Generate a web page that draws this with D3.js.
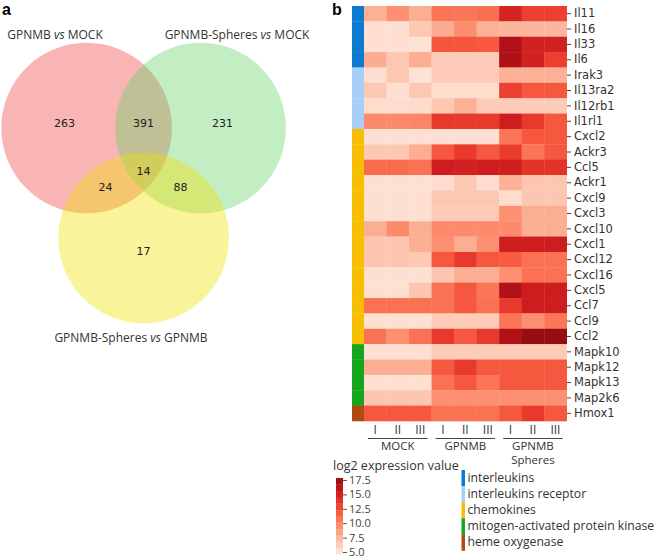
<!DOCTYPE html>
<html><head><meta charset="utf-8">
<script src="https://cdn.jsdelivr.net/npm/d3@7"></script>
<style>body{margin:0;background:#fff}svg{display:block}</style>
</head><body>
<script>
// ---------- DATA ----------
const vennSets = ["GPNMB vs MOCK", "GPNMB-Spheres vs MOCK", "GPNMB-Spheres vs GPNMB"];
const vennRegions = ["A", "AB", "B", "ABC", "AC", "BC", "C"];
const vennCounts = [263, 391, 231, 14, 24, 88, 17];

const samples = ["MOCK I","MOCK II","MOCK III","GPNMB I","GPNMB II","GPNMB III","Spheres I","Spheres II","Spheres III"];
const sampleTicks = ["I","II","III","I","II","III","I","II","III"];
const groupNames = [["MOCK"],["GPNMB"],["GPNMB","Spheres"]];
const genes = ["Il11","Il16","Il33","Il6","Irak3","Il13ra2","Il12rb1","Il1rl1","Cxcl2","Ackr3","Ccl5","Ackr1","Cxcl9","Cxcl3","Cxcl10","Cxcl1","Cxcl12","Cxcl16","Cxcl5","Ccl7","Ccl9","Ccl2","Mapk10","Mapk12","Mapk13","Map2k6","Hmox1"];
const geneClass = ["interleukins","interleukins","interleukins","interleukins","interleukins receptor","interleukins receptor","interleukins receptor","interleukins receptor","chemokines","chemokines","chemokines","chemokines","chemokines","chemokines","chemokines","chemokines","chemokines","chemokines","chemokines","chemokines","chemokines","chemokines","mitogen-activated protein kinase","mitogen-activated protein kinase","mitogen-activated protein kinase","mitogen-activated protein kinase","heme oxygenase"];
const classNames = ["interleukins","interleukins receptor","chemokines","mitogen-activated protein kinase","heme oxygenase"];
const expression = [
  [7.9, 9.5, 8.0, 10.9, 10.8, 11.1, 14.9, 13.3, 13.3],
  [5.2, 5.2, 6.7, 8.1, 9.6, 7.9, 7.6, 7.6, 7.6],
  [5.3, 5.3, 5.1, 12.3, 12.3, 12.1, 16.7, 15.0, 15.0],
  [8.1, 6.7, 8.0, 6.5, 6.5, 6.5, 16.8, 15.0, 13.3],
  [5.3, 6.7, 5.1, 6.5, 6.5, 6.5, 7.9, 7.9, 7.9],
  [6.7, 5.2, 6.7, 5.4, 5.4, 5.4, 13.3, 12.2, 12.2],
  [5.4, 5.4, 5.5, 6.7, 7.9, 6.5, 6.5, 6.5, 6.5],
  [9.8, 9.8, 10.0, 13.6, 13.6, 13.6, 15.3, 13.6, 12.2],
  [5.2, 5.2, 5.2, 5.2, 5.3, 5.3, 10.8, 12.2, 12.2],
  [6.7, 6.7, 8.0, 12.2, 13.6, 12.2, 13.5, 10.8, 12.2],
  [11.3, 11.3, 11.0, 15.3, 15.1, 15.3, 15.2, 13.9, 13.9],
  [5.2, 5.2, 5.2, 5.4, 6.7, 5.4, 7.9, 6.8, 6.8],
  [5.2, 5.2, 5.2, 6.7, 6.7, 6.7, 5.4, 6.8, 6.8],
  [5.2, 5.2, 5.2, 6.5, 6.5, 6.5, 9.5, 8.0, 8.0],
  [8.0, 9.8, 8.0, 9.8, 9.8, 9.8, 9.8, 8.0, 8.0],
  [6.8, 6.8, 8.0, 9.5, 8.0, 9.5, 15.3, 15.3, 15.3],
  [6.8, 6.8, 6.6, 12.2, 13.6, 12.2, 12.0, 11.0, 11.0],
  [5.2, 5.2, 5.2, 6.8, 8.0, 8.0, 9.5, 11.0, 11.0],
  [5.2, 5.2, 6.8, 11.0, 12.2, 10.8, 16.7, 15.3, 15.3],
  [11.0, 11.0, 11.0, 11.0, 12.2, 11.0, 13.6, 15.3, 15.3],
  [5.2, 5.2, 5.2, 6.5, 6.5, 6.5, 10.8, 9.5, 10.8],
  [11.0, 9.5, 11.0, 13.6, 12.2, 13.6, 16.7, 17.8, 17.8],
  [5.2, 5.2, 5.2, 6.5, 6.5, 6.5, 6.5, 6.5, 6.5],
  [8.0, 8.0, 8.0, 12.2, 13.6, 12.2, 12.2, 12.2, 12.2],
  [5.2, 5.2, 5.2, 11.0, 12.2, 10.8, 12.2, 12.2, 12.2],
  [6.8, 6.8, 6.8, 9.5, 9.5, 9.5, 9.5, 9.5, 9.5],
  [12.2, 12.2, 12.2, 11.0, 11.0, 11.0, 12.2, 13.6, 12.2]
];
const cbTicks = [5.0, 7.5, 10.0, 12.5, 15.0, 17.5];

// ---------- STYLE / LAYOUT ----------
const W = 658, H = 558;
const vennFill = ["rgb(240,68,68)", "rgb(105,210,105)", "rgb(240,225,2)"];
const classColor = d3.scaleOrdinal().domain(classNames).range(["#0a7bd0","#a8cff8","#f7bf00","#14a61e","#b04a10"]);
const color = d3.scaleSequential(d3.interpolateReds).domain([3.4, 19.4]);

const svg = d3.select("body").append("svg").attr("width", W).attr("height", H);
const sans = "'Open Sans', 'Noto Sans', sans-serif";
const dv = "'DejaVu Sans', sans-serif";

// panel letters
svg.append("text").attr("x", 2).attr("y", 15).text("a").attr("font-family", "Arial, 'Liberation Sans'").attr("font-weight", "bold").attr("font-size", 16);
svg.append("text").attr("x", 332).attr("y", 15).text("b").attr("font-family", "Arial, 'Liberation Sans'").attr("font-weight", "bold").attr("font-size", 16);

// ---------- VENN ----------
const R = 85.3;
const cx0 = 143.6, cy0 = 128, dx = 57, dy = 110;
const circles = [
  {x: cx0 - dx, y: cy0}, {x: cx0 + dx, y: cy0}, {x: cx0, y: cy0 + dy}
];
const gV = svg.append("g");
gV.selectAll("circle").data(circles).join("circle")
  .attr("cx", d => d.x).attr("cy", d => d.y).attr("r", R)
  .attr("fill", (d, i) => vennFill[i]).attr("fill-opacity", 0.4);

const regionPos = {
  A: [circles[0].x - 22, cy0 - 5],
  AB: [cx0, cy0 - 5],
  B: [circles[1].x + 22, cy0 - 5],
  ABC: [cx0, cy0 + 43],
  AC: [cx0 - 38, cy0 + 59],
  BC: [cx0 + 37, cy0 + 59],
  C: [cx0, cy0 + 123]
};
gV.selectAll("text.cnt").data(vennRegions).join("text").attr("class", "cnt")
  .attr("x", d => regionPos[d][0]).attr("y", d => regionPos[d][1])
  .attr("text-anchor", "middle").attr("dominant-baseline", "central")
  .attr("font-family", dv).attr("font-size", 11).attr("fill", "#222")
  .text((d, i) => vennCounts[i]);

const titlePos = [[55, 39], [237, 39], [131, 342]];
vennSets.forEach((s, i) => {
  const parts = s.split(" vs ");
  const t = gV.append("text").attr("x", titlePos[i][0]).attr("y", titlePos[i][1])
    .attr("text-anchor", "middle").attr("font-family", sans).attr("font-size", 12).attr("fill", "#333");
  t.append("tspan").text(parts[0] + " ");
  t.append("tspan").attr("font-style", "italic").text("vs");
  t.append("tspan").text(" " + parts[1]);
});

// ---------- HEATMAP ----------
const x = d3.scaleBand().domain(samples).range([364, 566.7]);
const y = d3.scaleBand().domain(genes).range([6, 421]);
const gH = svg.append("g");
const cells = [];
genes.forEach((g, r) => samples.forEach((s, c) => cells.push({g, s, v: expression[r][c]})));
gH.selectAll("rect.cell").data(cells).join("rect").attr("class", "cell")
  .attr("x", d => x(d.s)).attr("y", d => y(d.g))
  .attr("width", x.bandwidth() + 0.3).attr("height", y.bandwidth() + 0.3)
  .attr("fill", d => color(d.v));

// class color strip
gH.selectAll("rect.cls").data(genes).join("rect").attr("class", "cls")
  .attr("x", 352).attr("width", 12)
  .attr("y", d => y(d)).attr("height", y.bandwidth() + 0.3)
  .attr("fill", (d, i) => classColor(geneClass[i]));

// gene axis
const yAxis = d3.axisRight(y).tickSize(4).tickPadding(3);
const ga = gH.append("g").attr("transform", "translate(567,0)").call(yAxis);
ga.select(".domain").remove();
ga.selectAll("line").attr("stroke", "#444");
ga.selectAll("text").attr("font-family", dv).attr("font-size", 11.5).attr("fill", "#333");

// sample ticks
gH.selectAll("text.smp").data(samples).join("text").attr("class", "smp")
  .attr("x", d => x(d) + x.bandwidth() / 2).attr("y", 434)
  .attr("text-anchor", "middle").attr("font-family", sans).attr("font-size", 12).attr("fill", "#333")
  .text((d, i) => sampleTicks[i]);
// group lines & labels
groupNames.forEach((gn, k) => {
  const x0 = x(samples[k * 3]) + 4, x1 = x(samples[k * 3 + 2]) + x.bandwidth() - 4;
  gH.append("line").attr("x1", x0).attr("x2", x1).attr("y1", 438.5).attr("y2", 438.5).attr("stroke", "#444").attr("stroke-width", 1.2);
  gn.forEach((t, j) => {
    gH.append("text").attr("x", (x0 + x1) / 2).attr("y", 450 + j * 14)
      .attr("text-anchor", "middle").attr("font-family", sans).attr("font-size", 11.5).attr("fill", "#333").text(t);
  });
});

// ---------- COLORBAR ----------
svg.append("text").attr("x", 333).attr("y", 469.5).attr("font-family", sans).attr("font-size", 12.5).attr("fill", "#333").text("log2 expression value");
const cbY = d3.scaleLinear().domain([5, 17.5]).range([552, 480]);
const cbLo = 4.65, cbHi = 17.85, nBins = 12;
const binEdges = d3.range(nBins + 1).map(i => cbLo + (cbHi - cbLo) * i / nBins);
svg.append("g").selectAll("rect").data(d3.range(nBins)).join("rect")
  .attr("x", 336).attr("width", 7)
  .attr("y", i => cbY(binEdges[i + 1])).attr("height", i => cbY(binEdges[i]) - cbY(binEdges[i + 1]) + 0.3)
  .attr("fill", i => color((binEdges[i] + binEdges[i + 1]) / 2));
const cbAxis = d3.axisRight(cbY).tickValues(cbTicks).tickFormat(d3.format(".1f")).tickSize(4).tickPadding(2);
const gcb = svg.append("g").attr("transform", "translate(343,0)").call(cbAxis);
gcb.select(".domain").remove();
gcb.selectAll("line").attr("stroke", "#555");
gcb.selectAll("text").attr("font-family", sans).attr("font-size", 11).attr("fill", "#444");

// ---------- CLASS LEGEND ----------
const lg = svg.append("g");
const ly = d3.scaleBand().domain(classNames).range([470, 550.5]);
lg.selectAll("rect").data(classNames).join("rect")
  .attr("x", 461.5).attr("width", 3.5).attr("y", d => ly(d)).attr("height", ly.bandwidth() + 0.3)
  .attr("fill", d => classColor(d));
lg.selectAll("text").data(classNames).join("text")
  .attr("x", 467.5).attr("y", d => ly(d) + ly.bandwidth() / 2 + 4)
  .attr("font-family", sans).attr("font-size", 12.2).attr("fill", "#333").text(d => d);
</script>
</body></html>
